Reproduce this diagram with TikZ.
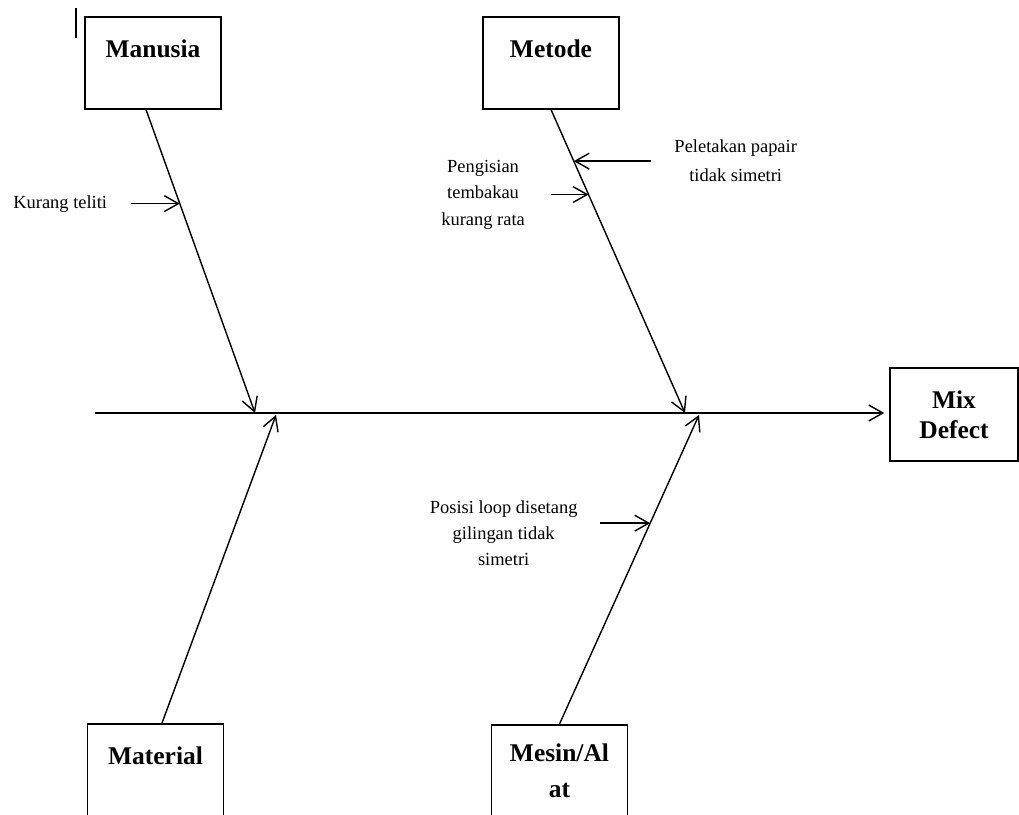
\documentclass[tikz,border=0pt]{standalone}
\usepackage{fontspec}
\setmainfont{Liberation Serif}
\usetikzlibrary{arrows.meta,positioning}

\begin{document}
\begin{tikzpicture}[line width=0.8pt,
  every node/.style={inner sep=0pt,font=\fontsize{10.5}{15}\selectfont},
  head/.style={draw,line width=0.9pt,minimum width=2.72cm,minimum height=1.84cm,anchor=north,font=\fontsize{14.5}{17}\selectfont\bfseries},
  toptext/.style={text height=0.81cm,text depth=1.03cm},
  bone/.style={-{Straight Barb[length=8pt,width=9pt]}},
  cause/.style={-{Straight Barb[length=8pt,width=9pt]}}]
\useasboundingbox (0,0) rectangle (20.38,16.28);
\draw[line width=1.4pt] (1.52,16.12) -- (1.52,15.52);
\node[head,toptext] (manusia) at (3.06,15.96) {Manusia};\node[head,toptext] (metode) at (11.02,15.96) {Metode};
\node[head,toptext] (material) at (3.11,1.82) {Material};
\node[head,align=center,font=\fontsize{14.5}{20.5}\selectfont\bfseries] (mesin) at (11.19,1.80) {Mesin/Al\\at};
\node[head,align=center,anchor=center,minimum width=2.56cm,minimum height=1.86cm] (mix) at (19.08,7.99) {Mix\\Defect};
\coordinate (tail) at (1.9,8.02);\coordinate (jm) at (5.10,8.02);\coordinate (jt) at (13.70,8.02);
\coordinate (ja) at (5.52,7.98);\coordinate (js) at (13.98,7.98);
\draw[bone,shorten >=2.8pt] (tail) -- (tail -| mix.west);
\draw[bone] ([xshift=-0.14cm]manusia.south) -- coordinate[pos=0.31] (kt) (jm);
\draw[bone] (metode.south) -- coordinate[pos=0.17] (pt) coordinate[pos=0.28] (gt) (jt);
\draw[bone] ([xshift=0.13cm]material.north) -- (ja);
\draw[bone] (mesin.north) -- coordinate[pos=0.65] (st) (js);
\coordinate[left=0.98cm of kt] (k0);\node[left=0.46cm of k0] (kurang) {Kurang teliti};\draw[cause] (k0) -- (kt);
\coordinate[right=1.54cm of pt] (p0);\node[right=0.46cm of p0,align=center,font=\fontsize{10.5}{16.5}\selectfont] (peletakan) {Peletakan papair\\tidak simetri};\draw[cause] (p0) -- (pt);
\coordinate[left=0.76cm of gt] (g0);\node[left=0.5cm of g0,align=center] (pengisian) {Pengisian\\tembakau\\kurang rata};\draw[cause] (g0) -- (gt);
\coordinate[left=1cm of st] (s0);\node[left=0.44cm of s0,yshift=-0.2cm,align=center] (posisi) {Posisi loop disetang\\gilingan tidak\\simetri};\draw[cause] (s0) -- (st);
\end{tikzpicture}
\end{document}
